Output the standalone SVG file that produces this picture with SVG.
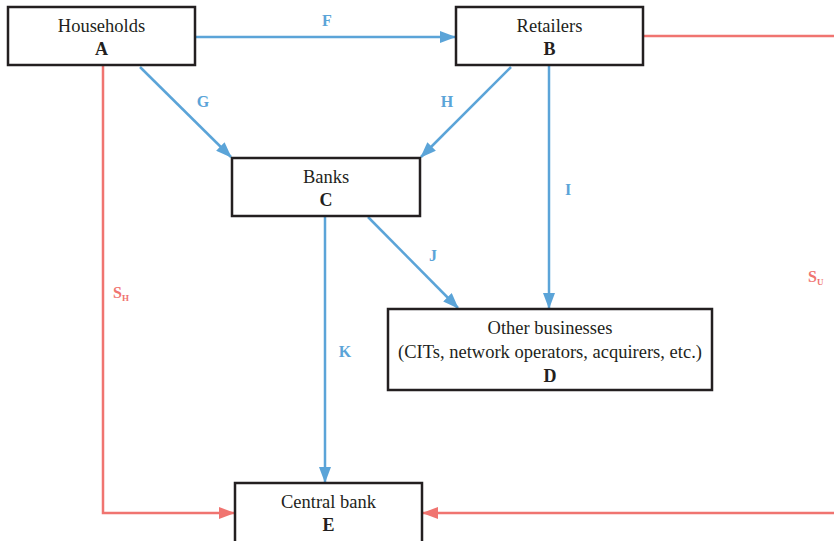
<svg xmlns="http://www.w3.org/2000/svg" width="834" height="541" viewBox="0 0 834 541">
<style>
.box{fill:#fff;stroke:#231f20;stroke-width:2.5}
.t{font-family:"Liberation Serif",serif;font-size:18.5px;fill:#231f20;text-anchor:middle}
.b{font-weight:bold;font-size:18px}
.bl{fill:none;stroke:#5ba4d8;stroke-width:2.5}
.rd{fill:none;stroke:#f07470;stroke-width:2.5}
.lb{font-family:"Liberation Serif",serif;font-size:16px;font-weight:bold;fill:#5ba4d8;text-anchor:middle}
.lr{font-family:"Liberation Serif",serif;font-size:16px;font-weight:bold;fill:#f07470}
</style>
<defs>
<marker id="ab" markerWidth="16" markerHeight="12" refX="15" refY="6" orient="auto" markerUnits="userSpaceOnUse"><path d="M0,0 L16,6 L0,12 Z" fill="#5ba4d8"/></marker>
<marker id="ar" markerWidth="16" markerHeight="12" refX="15" refY="6" orient="auto" markerUnits="userSpaceOnUse"><path d="M0,0 L16,6 L0,12 Z" fill="#f07470"/></marker>
</defs>
<g id="connectors">
<line class="bl" x1="196" y1="37" x2="455" y2="37" marker-end="url(#ab)"/>
<line class="bl" x1="140" y1="67" x2="231" y2="157" marker-end="url(#ab)"/>
<line class="bl" x1="511" y1="67" x2="421" y2="157" marker-end="url(#ab)"/>
<line class="bl" x1="549" y1="66" x2="549" y2="308" marker-end="url(#ab)"/>
<line class="bl" x1="368" y1="217" x2="458" y2="308" marker-end="url(#ab)"/>
<line class="bl" x1="325" y1="217" x2="325" y2="482" marker-end="url(#ab)"/>
<line class="rd" x1="644" y1="36" x2="834" y2="36"/>
<polyline class="rd" points="103,66 103,513 234,513" marker-end="url(#ar)"/>
<line class="rd" x1="834" y1="513" x2="423" y2="513" marker-end="url(#ar)"/>
<text class="lb" x="327" y="26">F</text>
<text class="lb" x="203" y="107">G</text>
<text class="lb" x="447" y="107">H</text>
<text class="lb" x="568" y="195">I</text>
<text class="lb" x="433" y="261">J</text>
<text class="lb" x="345" y="357">K</text>
<text class="lr" x="113" y="298">S<tspan font-size="9" dy="3">H</tspan></text>
<text class="lr" x="808" y="282">S<tspan font-size="9" dy="3">U</tspan></text>
</g>
<g id="A"><rect class="box" x="8" y="7" width="187" height="58"/><text class="t" x="101.5" y="32">Households</text><text class="t b" x="101.5" y="55">A</text></g>
<g id="B"><rect class="box" x="456" y="7" width="187" height="58"/><text class="t" x="549.5" y="32">Retailers</text><text class="t b" x="549.5" y="55">B</text></g>
<g id="C"><rect class="box" x="232" y="158" width="188" height="58"/><text class="t" x="326" y="183">Banks</text><text class="t b" x="326" y="206">C</text></g>
<g id="D"><rect class="box" x="388" y="309" width="324" height="81"/><text class="t" x="550" y="334">Other businesses</text><text class="t" x="550" y="358">(CITs, network operators, acquirers, etc.)</text><text class="t b" x="550" y="382">D</text></g>
<g id="E"><rect class="box" x="235" y="483" width="187" height="70"/><text class="t" x="328.5" y="508">Central bank</text><text class="t b" x="328.5" y="531">E</text></g>
</svg>
